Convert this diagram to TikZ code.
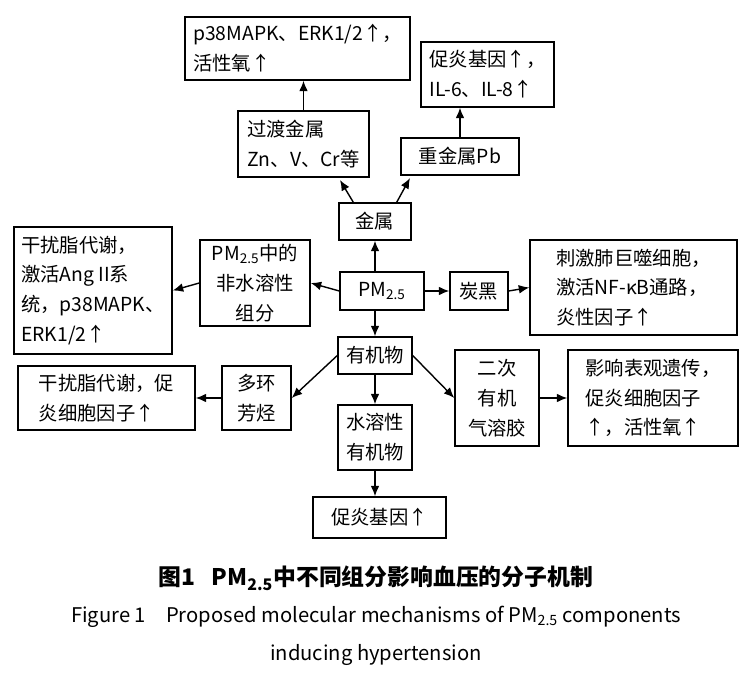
\documentclass[tikz,border=0pt]{standalone}
\usepackage{fontspec}
\setmainfont{Noto Sans CJK SC}
\usetikzlibrary{arrows.meta}
\tikzset{
 bx/.style={draw,line width=0.8pt,inner sep=2pt,font=\fontsize{11}{17}\selectfont,align=left},
 bc/.style={bx,align=center},
 arr/.style={-{Latex[length=6pt,width=5pt]},line width=0.8pt}
}
\newcommand{\pmt}{PM\textsubscript{2.5}}
\begin{document}
\begin{tikzpicture}[x=0.02cm,y=-0.02cm]
\useasboundingbox (0,0) rectangle (752,676);
\node[bx,minimum width=4.5cm,minimum height=1.26cm] (A) at (297.5,48.5) {p38MAPK、ERK1/2↑，\\活性氧↑};
\node[bx,minimum width=2.66cm,minimum height=1.3cm] (B) at (487.5,74.5) {促炎基因↑，\\IL-6、IL-8↑};
\node[bx,minimum width=2.62cm,minimum height=1.32cm] (C) at (303.5,144) {过渡金属\\Zn、V、Cr等};
\node[bc,minimum width=2.36cm,minimum height=0.74cm] (D) at (460,156.5) {重金属Pb};
\node[bc,minimum width=1.44cm,minimum height=0.74cm] (E) at (375,221.5) {金属};
\node[bx,minimum width=3.16cm,minimum height=2.54cm] (F) at (93,290.5) {干扰脂代谢，\\激活Ang II系\\统，p38MAPK、\\ERK1/2↑};
\node[bc,minimum width=2.2cm,minimum height=1.72cm] (G) at (255,283) {\pmt{}中的\\非水溶性\\组分};
\node[bc,minimum width=1.68cm,minimum height=0.76cm] (H) at (382,291) {\pmt};
\node[bc,minimum width=1.16cm,minimum height=0.76cm] (I) at (479,291) {炭黑};
\node[bx,minimum width=4.14cm,minimum height=1.9cm] (J) at (633.5,287.5) {刺激肺巨噬细胞，\\激活NF-κB通路，\\炎性因子↑};
\node[bc,minimum width=1.48cm,minimum height=0.74cm] (K) at (375,355.5) {有机物};
\node[bx,minimum width=3.54cm,minimum height=1.28cm] (L) at (106.5,398) {干扰脂代谢，促\\炎细胞因子↑};
\node[bc,minimum width=1.38cm,minimum height=1.28cm] (M) at (256.5,398) {多环\\芳烃};
\node[bc,minimum width=1.68cm,minimum height=1.92cm] (N) at (497,398) {二次\\有机\\气溶胶};
\node[bx,minimum width=3.4cm,minimum height=1.92cm] (O) at (653,398) {影响表观遗传，\\促炎细胞因子\\↑，活性氧↑};
\node[bc,minimum width=1.48cm,minimum height=1.3cm] (P) at (375,437.5) {水溶性\\有机物};
\node[bc,minimum width=2.66cm,minimum height=0.82cm] (Q) at (379.5,517.5) {促炎基因↑};
\draw[arr] (E.north west) ++(15,0) -- (340,180);
\draw[arr] (E.north east) ++(-15,0) -- (410,178);
\draw[arr] (C.north) -- (C.north |- A.south);
\draw[arr] (D.north) -- (D.north |- B.south);
\draw[arr] (H.north -| E) -- (E.south);
\draw[arr] (H.west) -- (G.east);
\draw[arr] (G.west) -- (F.east);
\draw[arr] (H.east) -- (I.west);
\draw[arr] (I.east) -- (J.west);
\draw[arr] (H.south -| K) -- (K.north);
\draw[arr] (K.west) -- (M.east);
\draw[arr] (M.west) -- (L.east);
\draw[arr] (K.south) -- (P.north);
\draw[arr] (K.east) -- (N.west);
\draw[arr] (N.east) -- (O.west);
\draw[arr] (P.south) -- (P.south |- Q.north);
\node[font=\fontsize{13}{16}\selectfont\bfseries] (t1) at (376,578) {图1\hspace{0.7em}\pmt{}中不同组分影响血压的分子机制};
\node[font=\fontsize{11.5}{14}\selectfont] (t2) at (376,617) {Figure 1\hspace{1em}Proposed molecular mechanisms of \pmt{} components};
\node[font=\fontsize{11.5}{14}\selectfont] (t3) at (376,655) {inducing hypertension};
\end{tikzpicture}
\end{document}
